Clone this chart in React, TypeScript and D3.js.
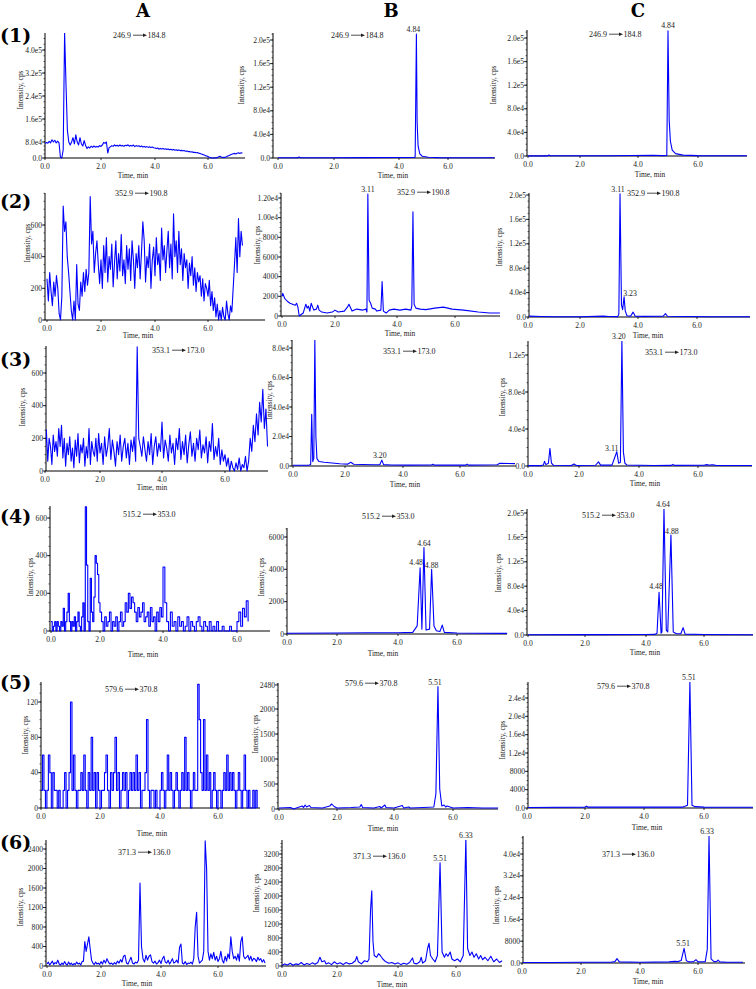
import React from 'react';
import * as d3 from 'd3';

// ---------------- DATA ----------------
const COLUMN_HEADERS = ['A', 'B', 'C'];
const ROW_HEADERS = ['(1)', '(2)', '(3)', '(4)', '(5)', '(6)'];
const X_TICKS = [0, 2, 4, 6];
const X_TICK_LABELS = ['0.0', '2.0', '4.0', '6.0'];
const X_TITLE = 'Time, min';
const Y_TITLE = 'Intensity, cps';
const TRANSITIONS: [string, string][] = [
  ['246.9', '184.8'], ['352.9', '190.8'], ['353.1', '173.0'],
  ['515.2', '353.0'], ['579.6', '370.8'], ['371.3', '136.0'],
];

// Column A (blank samples): intensities read every 0.05 min
const A_STEP_MIN = 0.05;
const A1_INTENSITY_E4 = [
  7.2,7.8,7.4,8.2,7.6,8.8,8.0,8.6,7.5,8.3, 7.6,0.5,0.0,4.0,46,28,12,8.0,6.5,8.0,
  9.5,7.0,10.5,8.0,6.5,9.5,7.0,6.0,8.5,6.2, 4.8,5.6,5.0,5.9,5.3,6.0,5.4,5.8,5.5,6.2,
  5.8,6.5,7.8,7.3,8.0,2.5,5.2,5.6,6.2,5.8, 6.6,6.0,6.4,5.9,6.5,6.0,6.3,5.8,6.4,6.1,
  6.6,5.9,6.3,6.0,6.5,5.7,6.2,5.9,6.1,5.6, 6.0,5.5,5.8,5.4,5.7,5.3,5.6,5.2,5.5,5.1,
  5.0,4.7,5.0,4.4,4.8,4.5,4.8,4.4,4.6,4.3, 4.5,4.1,4.4,4.0,4.3,3.9,4.1,3.8,4.0,3.7,
  3.8,3.6,3.7,3.4,3.5,3.2,3.3,3.0,3.1,2.8, 2.9,2.6,2.7,2.4,2.3,2.0,1.8,1.5,1.2,1.0,
  0.7,0.4,0.2,0.0,0.0,0.1,0.0,0.2,0.6,0.9, 0.5,0.2,0.4,0.3,0.7,1.0,1.3,1.6,1.9,2.1,
  2.3,2.0,2.4,2.6,2.3,2.6,2.5,
];
const A2_INTENSITY = [
  260,120,300,180,90,240,150,280,200,40, 0,150,720,560,620,400,300,180,60,0,
  120,0,350,100,60,240,150,300,180,320, 220,300,780,480,560,300,420,500,350,230,
  380,200,470,300,520,240,400,320,480,210, 360,500,260,420,310,540,280,380,230,470,
  320,450,250,500,380,200,420,330,470,260, 430,620,500,240,400,330,480,200,380,460,
  280,520,350,420,250,580,380,470,300,440, 560,330,480,260,670,400,500,300,560,350,
  450,250,420,330,380,200,360,280,400,220, 330,180,300,240,280,150,260,120,230,200,
  150,250,90,180,60,140,20,100,0,60, 0,80,20,0,120,40,0,90,50,200,
  350,520,300,640,400,560,470,
];
const A3_INTENSITY = [
  100,250,60,200,150,40,220,120,180,90, 260,150,280,80,200,30,170,100,210,60,
  140,20,190,90,230,50,160,110,200,30, 150,80,260,40,180,120,90,200,60,230,
  110,170,40,210,90,150,260,70,190,120, 30,180,100,220,60,150,200,80,170,40,
  190,120,210,60,760,200,150,90,210,130, 60,180,100,230,40,150,210,90,170,120,
  300,80,190,140,60,220,110,170,40,200, 130,260,70,180,100,220,50,160,240,90,
  170,60,200,130,250,80,160,110,210,50, 180,120,290,70,150,90,200,40,130,60,
  100,30,80,0,60,20,0,50,10,80, 0,40,20,90,0,60,200,120,280,180,
  350,220,420,300,500,260,380,150,
];
const A4_INTENSITY = [
  50,0,25,50,0,50,25,0,50,25, 120,0,50,100,200,50,0,50,25,75,
  0,50,100,25,0,75,150,0,660,350, 50,0,280,100,50,180,400,360,300,150,
  100,50,0,75,25,50,100,0,50,25, 75,0,50,100,25,50,150,100,200,120,
  180,150,100,50,125,75,100,150,50,75, 100,25,125,50,75,0,100,50,125,75,
  340,150,50,0,100,25,50,0,75,25, 50,0,25,75,0,50,25,0,50,75,
  25,0,50,25,0,50,0,25,0,50, 0,0,25,0,0,0,25,0,0,0,
  50,100,25,120,75,160,50,
];
const A5_INTENSITY = [
  20,60,20,0,20,60,40,0,40,20, 20,0,20,0,0,20,40,0,20,40,
  120,20,60,20,0,20,20,40,20,60, 20,0,40,20,80,20,40,0,40,20,
  0,20,20,40,60,20,0,40,20,40, 80,20,40,0,20,40,20,40,0,20,
  40,20,40,20,60,20,40,0,20,20, 40,100,20,0,20,20,0,20,0,0,
  20,40,20,0,20,60,20,40,20,0, 20,40,20,0,20,40,20,80,20,40,
  20,0,20,40,20,20,140,100,40,20, 100,20,60,20,40,0,20,40,20,0,
  20,20,0,20,40,20,60,20,40,20, 40,20,0,20,40,20,0,20,60,20,
  0,20,0,0,20,0,20,0,
];
const A6_INTENSITY = [
  40,80,20,60,100,30,70,50,120,40, 20,60,30,90,40,20,80,30,60,20,
  50,30,80,40,60,20,90,100,500,300, 450,600,350,120,60,30,80,40,60,30,
  90,40,120,60,150,80,40,60,30,70, 40,100,60,130,80,200,220,60,40,110,
  180,60,40,80,60,120,1700,400,150,80, 220,120,200,230,90,60,100,40,70,120,
  50,150,200,80,60,120,40,90,150,60, 80,120,60,380,450,60,40,90,30,60,
  50,80,40,150,800,1100,200,60,90,120, 300,2570,2000,300,120,250,150,280,120,200,
  90,150,300,120,60,200,100,250,150,600, 300,150,200,120,250,100,500,600,200,150,
  180,220,120,200,100,160,140,90,180,120, 150,80,130,60,
];

// Columns B and C: [time (min), intensity (cps)]
const B1_POINTS: [number, number][] = [
  [0,300],[0.7,300],[0.75,1500],[0.8,300],[2,500],[3,600],[4,800],[4.6,900],[4.66,1500],
  [4.71,210000],[4.74,60000],[4.78,20000],[4.85,7000],[4.95,3000],[5.2,1200],[5.6,600],[6.5,400],[7.9,300],
];
const C1_POINTS: [number, number][] = [
  [0,200],[0.75,200],[0.8,1800],[0.85,300],[3,500],[4.5,1200],[4.8,600],[4.96,800],
  [5.0,212000],[5.04,60000],[5.08,25000],[5.14,10000],[5.25,4000],[5.5,1500],[6,600],[7.63,300],
];
const B2_POINTS: [number, number][] = [
  [0,2000],[0.03,2300],[0.1,1800],[0.2,1500],[0.3,1300],[0.4,1200],[0.5,1100],[0.55,1300],[0.6,900],
  [0.65,0],[0.7,100],[0.8,300],[0.9,1200],[0.95,800],[1.0,1000],[1.05,500],[1.1,1300],[1.2,600],
  [1.3,700],[1.35,1100],[1.4,600],[1.5,400],[1.7,300],[1.9,400],[2.0,600],[2.1,400],[2.3,500],
  [2.4,900],[2.45,1200],[2.55,500],[2.7,700],[2.9,600],[3.0,700],[3.03,400],[3.06,12400],[3.1,1600],
  [3.15,1300],[3.2,800],[3.3,700],[3.35,500],[3.48,600],[3.52,3500],[3.56,500],[3.65,300],[3.75,600],
  [3.9,700],[4.1,600],[4.3,700],[4.48,600],[4.51,1000],[4.55,10600],[4.59,1200],[4.65,800],[4.8,700],
  [5.0,650],[5.3,800],[5.6,900],[5.9,700],[6.3,600],[6.8,400],[7.2,300],[7.55,300],
];
const C2_POINTS: [number, number][] = [
  [0,1500],[0.5,800],[1,500],[2,400],[2.8,1500],[3.0,800],[3.3,600],[3.34,5000],[3.38,202000],
  [3.43,20000],[3.47,12000],[3.52,33000],[3.56,10000],[3.62,2000],[3.75,1500],[3.83,8000],[3.9,1500],
  [4.2,1000],[4.85,1200],[4.93,5500],[5.0,1200],[5.6,800],[6.5,500],[7.8,400],
];
const B3_POINTS: [number, number][] = [
  [0,500],[0.6,500],[0.68,1000],[0.72,35000],[0.76,3000],[0.8,5000],[0.84,86000],[0.88,20000],
  [0.92,5000],[1.0,3000],[1.2,2500],[1.5,2000],[1.8,1500],[2.1,1300],[2.2,2500],[2.3,1200],[2.6,1000],
  [3.0,800],[3.2,900],[3.27,4000],[3.33,900],[3.6,700],[4.2,600],[5.0,700],[5.05,1200],[5.1,600],
  [6.2,600],[6.25,1300],[6.3,600],[7.3,800],[7.4,1800],[7.93,1600],
];
const C3_POINTS: [number, number][] = [
  [0,400],[0.5,400],[0.6,1000],[0.65,5000],[0.7,1500],[0.8,3000],[0.86,19000],[0.92,3000],[1.0,800],
  [1.7,600],[1.8,2200],[1.9,600],[2.55,800],[2.65,4500],[2.72,900],[3.1,1000],[3.2,10000],[3.26,15500],
  [3.32,3000],[3.38,4000],[3.43,136000],[3.48,15000],[3.53,3000],[3.6,1000],[4.5,600],[5.1,700],
  [5.15,1800],[5.2,700],[6.2,800],[6.3,1500],[6.4,900],[6.5,1400],[6.6,700],[7.83,500],
];
const B4_POINTS: [number, number][] = [
  [0,50],[2,60],[3,80],[4,80],[4.5,100],[4.65,500],[4.75,4100],[4.81,300],[4.88,5350],[4.95,250],
  [5.07,300],[5.14,4000],[5.22,500],[5.3,200],[5.42,150],[5.5,550],[5.57,100],[6,60],[7.7,40],
];
const C4_POINTS: [number, number][] = [
  [0,500],[2,600],[4,800],[4.3,1000],[4.38,3000],[4.45,70000],[4.52,3000],[4.55,5000],[4.62,207000],
  [4.7,8000],[4.75,5000],[4.86,164000],[4.94,5000],[5.05,2000],[5.2,2000],[5.28,12000],[5.35,1500],
  [6,800],[7.69,500],
];
const B5_POINTS: [number, number][] = [
  [0,20],[0.4,30],[0.5,0],[0.7,40],[0.8,60],[0.85,30],[0.9,80],[0.95,40],[1.05,70],[1.1,30],[1.5,20],
  [1.75,60],[1.82,100],[1.9,50],[2.0,20],[2.5,30],[2.8,40],[2.85,90],[2.9,30],[3.3,20],[3.5,50],
  [3.55,20],[3.68,80],[3.72,30],[4.0,20],[4.28,70],[4.33,20],[4.5,40],[4.55,20],[5.0,30],[5.35,40],
  [5.42,300],[5.49,2450],[5.55,400],[5.62,60],[5.7,80],[5.75,40],[5.8,60],[6.0,20],[6.5,30],[7.0,20],[7.53,20],
];
const C5_POINTS: [number, number][] = [
  [0,100],[2,200],[2.05,400],[2.1,200],[4,200],[5.3,200],[5.45,600],[5.53,27500],[5.6,600],
  [5.7,300],[6,200],[7.63,150],
];
const B6_POINTS: [number, number][] = [
  [0,20],[0.1,60],[0.2,30],[0.3,80],[0.4,20],[0.5,60],[0.6,40],[0.7,100],[0.8,30],[0.9,70],[1.0,40],
  [1.1,90],[1.2,50],[1.3,100],[1.38,250],[1.45,120],[1.55,150],[1.6,60],[1.7,90],[1.8,40],[1.9,120],
  [2.0,60],[2.1,90],[2.2,40],[2.3,100],[2.4,60],[2.5,80],[2.6,150],[2.65,270],[2.7,120],[2.8,60],
  [2.9,150],[3.0,120],[3.05,200],[3.1,1600],[3.14,2150],[3.18,700],[3.22,300],[3.3,250],[3.36,350],
  [3.42,300],[3.5,200],[3.6,120],[3.7,80],[3.8,100],[3.9,60],[4.0,90],[4.1,40],[4.2,80],[4.3,50],
  [4.4,100],[4.5,230],[4.55,80],[4.65,60],[4.75,120],[4.8,250],[4.85,80],[4.95,150],[5.02,500],
  [5.07,650],[5.12,300],[5.2,200],[5.28,120],[5.36,300],[5.45,2950],[5.52,400],[5.6,250],[5.66,350],
  [5.72,280],[5.8,400],[5.86,200],[5.95,150],[6.05,200],[6.15,120],[6.25,300],[6.34,3650],[6.4,500],
  [6.48,300],[6.55,400],[6.62,250],[6.7,350],[6.78,200],[6.85,300],[6.92,180],[7.0,250],[7.1,150],
  [7.2,280],[7.3,120],[7.4,200],[7.5,100],[7.59,150],
];
const C6_POINTS: [number, number][] = [
  [0,200],[1,200],[2,300],[3.0,300],[3.15,500],[3.22,1600],[3.3,400],[4,300],[5.0,400],[5.2,600],
  [5.3,500],[5.42,900],[5.52,5400],[5.6,800],[5.7,400],[5.85,500],[5.93,1200],[6.0,400],[6.25,500],
  [6.32,5000],[6.38,46600],[6.45,1500],[6.55,500],[6.65,600],[6.69,1100],[6.75,400],[7,300],[7.55,250],
];

// Peak labels: [text, time, intensity]
type Peak = [string, number, number];
const PEAKS_1B: Peak[] = [['4.84', 4.71, 210000]];
const PEAKS_1C: Peak[] = [['4.84', 5.0, 212000]];
const PEAKS_2B: Peak[] = [['3.11', 3.06, 12400]];
const PEAKS_2C: Peak[] = [['3.11', 3.38, 202000], ['3.23', 3.52, 33000]];
const PEAKS_3B: Peak[] = [['3.20', 3.27, 4000]];
const PEAKS_3C: Peak[] = [['3.20', 3.43, 136000], ['3.11', 3.26, 15500]];
const PEAKS_4B: Peak[] = [['4.48', 4.75, 4100], ['4.64', 4.88, 5350], ['4.88', 5.14, 4000]];
const PEAKS_4C: Peak[] = [['4.64', 4.62, 207000], ['4.88', 4.86, 164000], ['4.48', 4.45, 70000]];
const PEAKS_5B: Peak[] = [['5.51', 5.49, 2450]];
const PEAKS_5C: Peak[] = [['5.51', 5.53, 27500]];
const PEAKS_6B: Peak[] = [['5.51', 5.45, 2950], ['6.33', 6.34, 3650]];
const PEAKS_6C: Peak[] = [['6.33', 6.38, 46600], ['5.51', 5.52, 5400]];

// Y ticks
const YT_A1 = [0, 8, 16, 24, 32, 40];
const YL_A1 = ['0.0', '8.0e4', '1.6e5', '2.4e5', '3.2e5', '4.0e5'];
const YT_E5 = [0, 40000, 80000, 120000, 160000, 200000];
const YL_E5 = ['0.0', '4.0e4', '8.0e4', '1.2e5', '1.6e5', '2.0e5'];
const YT_600 = [0, 200, 400, 600];
const YL_600 = ['0', '200', '400', '600'];
const YT_B2 = [0, 2000, 4000, 6000, 8000, 10000, 12000];
const YL_B2 = ['0', '2000', '4000', '6000', '8000', '1.00e4', '1.20e4'];
const YT_B3 = [0, 20000, 40000, 60000, 80000];
const YL_B3 = ['0.0', '2.0e4', '4.0e4', '6.0e4', '8.0e4'];
const YT_C3 = [0, 40000, 80000, 120000];
const YL_C3 = ['0.0', '4.0e4', '8.0e4', '1.2e5'];
const YT_B4 = [0, 2000, 4000, 6000];
const YL_B4 = ['0', '2000', '4000', '6000'];
const YT_A5 = [0, 40, 80, 120];
const YL_A5 = ['0', '40', '80', '120'];
const YT_B5 = [0, 500, 1000, 1500, 2000, 2480];
const YL_B5 = ['0', '500', '1000', '1500', '2000', '2480'];
const YT_C5 = [0, 4000, 8000, 12000, 16000, 20000, 24000];
const YL_C5 = ['0.0', '4000', '8000', '1.2e4', '1.6e4', '2.0e4', '2.4e4'];
const YT_A6 = [0, 400, 800, 1200, 1600, 2000, 2400];
const YL_A6 = ['0', '400', '800', '1200', '1600', '2000', '2400'];
const YT_B6 = [0, 400, 800, 1200, 1600, 2000, 2400, 2800, 3200];
const YL_B6 = ['0', '400', '800', '1200', '1600', '2000', '2400', '2800', '3200'];
const YT_C6 = [0, 8000, 16000, 24000, 32000, 40000];
const YL_C6 = ['0.0', '8000', '1.6e4', '2.4e4', '3.2e4', '4.0e4'];

const sampled = (vals: number[]): [number, number][] => vals.map((v, i) => [i * A_STEP_MIN, v]);

// ---------------- LAYOUT ----------------
type PanelCfg = {
  id: string; row: number;
  series: [number, number][]; peaks: Peak[];
  yTicks: number[]; yLabels: string[];
  x0: number; xEnd: number; xTickPx: number[];
  yTop: number; yBase: number; yDom: number[]; yRng: number[];
  ylab: [number, number]; xlab: [number, number]; ann: [number, number];
  peakOff: [number, number][]; step?: boolean;
};

const PANELS: PanelCfg[] = [
  { id: '1A', row: 0, series: sampled(A1_INTENSITY_E4), peaks: [], yTicks: YT_A1, yLabels: YL_A1,
    x0: 45, xEnd: 245, xTickPx: [45, 101, 155, 208], yTop: 33, yBase: 158, yDom: [0, 8, 40], yRng: [158, 142, 50],
    ylab: [20, 90], xlab: [133, 175], ann: [113, 38], peakOff: [] },
  { id: '1B', row: 0, series: B1_POINTS, peaks: PEAKS_1B, yTicks: YT_E5, yLabels: YL_E5,
    x0: 273, xEnd: 495, xTickPx: [278, 334, 399, 448], yTop: 33, yBase: 158, yDom: [0, 200000], yRng: [158, 40],
    ylab: [241, 85], xlab: [393, 175], ann: [331, 38], peakOff: [[-3, 0]] },
  { id: '1C', row: 0, series: C1_POINTS, peaks: PEAKS_1C, yTicks: YT_E5, yLabels: YL_E5,
    x0: 527, xEnd: 747, xTickPx: [528, 580, 638, 698], yTop: 30, yBase: 156, yDom: [0, 200000], yRng: [156, 38],
    ylab: [493, 85], xlab: [650, 174], ann: [589, 37], peakOff: [[0, -1]] },

  { id: '2A', row: 1, series: sampled(A2_INTENSITY), peaks: [], yTicks: YT_600, yLabels: YL_600,
    x0: 45, xEnd: 265, xTickPx: [47, 101, 155, 208], yTop: 193, yBase: 320, yDom: [0, 600], yRng: [320, 225],
    ylab: [27, 243], xlab: [138, 335], ann: [115, 196], peakOff: [] },
  { id: '2B', row: 1, series: B2_POINTS, peaks: PEAKS_2B, yTicks: YT_B2, yLabels: YL_B2,
    x0: 281, xEnd: 500, xTickPx: [282, 335, 397, 455], yTop: 193, yBase: 316, yDom: [0, 12000], yRng: [316, 198],
    ylab: [257, 245], xlab: [400, 333], ann: [397, 195], peakOff: [[0, 0]] },
  { id: '2C', row: 1, series: C2_POINTS, peaks: PEAKS_2C, yTicks: YT_E5, yLabels: YL_E5,
    x0: 529, xEnd: 750, xTickPx: [528, 580, 638, 697], yTop: 193, yBase: 317, yDom: [0, 200000], yRng: [317, 195],
    ylab: [499, 247], xlab: [648, 335], ann: [627, 196], peakOff: [[-2, 0], [6, 1]] },

  { id: '3A', row: 2, series: sampled(A3_INTENSITY), peaks: [], yTicks: YT_600, yLabels: YL_600,
    x0: 46, xEnd: 268, xTickPx: [45, 100, 162, 225], yTop: 346, yBase: 471, yDom: [0, 600], yRng: [471, 373],
    ylab: [22, 407], xlab: [152, 487], ann: [152, 353], peakOff: [] },
  { id: '3B', row: 2, series: B3_POINTS, peaks: PEAKS_3B, yTicks: YT_B3, yLabels: YL_B3,
    x0: 292, xEnd: 516, xTickPx: [293, 345, 403, 460], yTop: 340, yBase: 466, yDom: [0, 80000], yRng: [466, 348],
    ylab: [269, 400], xlab: [405, 484], ann: [383, 354], peakOff: [[-2, 0]] },
  { id: '3C', row: 2, series: C3_POINTS, peaks: PEAKS_3C, yTicks: YT_C3, yLabels: YL_C3,
    x0: 528, xEnd: 752, xTickPx: [528, 579, 639, 698], yTop: 341, yBase: 466, yDom: [0, 120000], yRng: [466, 355],
    ylab: [502, 397], xlab: [645, 483], ann: [645, 355], peakOff: [[-3, 0], [-5, 1]] },

  { id: '4A', row: 3, series: sampled(A4_INTENSITY), peaks: [], yTicks: YT_600, yLabels: YL_600,
    x0: 50, xEnd: 270, xTickPx: [51, 100, 163, 237], yTop: 506, yBase: 631, yDom: [0, 600], yRng: [631, 518],
    ylab: [30, 577], xlab: [143, 654], ann: [123, 517], peakOff: [], step: true },
  { id: '4B', row: 3, series: B4_POINTS, peaks: PEAKS_4B, yTicks: YT_B4, yLabels: YL_B4,
    x0: 287, xEnd: 507, xTickPx: [287, 337, 398, 457], yTop: 528, yBase: 634, yDom: [0, 6000], yRng: [634, 537],
    ylab: [261, 577], xlab: [383, 653], ann: [362, 519], peakOff: [[-4, -1], [0, 0], [0, 1]] },
  { id: '4C', row: 3, series: C4_POINTS, peaks: PEAKS_4C, yTicks: YT_E5, yLabels: YL_E5,
    x0: 527, xEnd: 753, xTickPx: [528, 585, 646, 704], yTop: 509, yBase: 635, yDom: [0, 200000], yRng: [635, 513],
    ylab: [498, 573], xlab: [645, 652], ann: [582, 518], peakOff: [[-1, 0], [1, 1], [-3, -1]] },

  { id: '5A', row: 4, series: sampled(A5_INTENSITY), peaks: [], yTicks: YT_A5, yLabels: YL_A5,
    x0: 41, xEnd: 260, xTickPx: [41, 100, 160, 218], yTop: 682, yBase: 808, yDom: [0, 120], yRng: [808, 702],
    ylab: [25, 735], xlab: [152, 833], ann: [105, 692], peakOff: [], step: true },
  { id: '5B', row: 4, series: B5_POINTS, peaks: PEAKS_5B, yTicks: YT_B5, yLabels: YL_B5,
    x0: 278, xEnd: 498, xTickPx: [279, 337, 394, 453], yTop: 683, yBase: 809, yDom: [0, 2480], yRng: [809, 685],
    ylab: [255, 734], xlab: [383, 828], ann: [345, 686], peakOff: [[-3, 0]] },
  { id: '5C', row: 4, series: C5_POINTS, peaks: PEAKS_5C, yTicks: YT_C5, yLabels: YL_C5,
    x0: 528, xEnd: 753, xTickPx: [527, 585, 644, 704], yTop: 682, yBase: 808, yDom: [0, 24000], yRng: [808, 698],
    ylab: [502, 740], xlab: [647, 827], ann: [597, 689], peakOff: [[-1, 0]] },

  { id: '6A', row: 5, series: sampled(A6_INTENSITY), peaks: [], yTicks: YT_A6, yLabels: YL_A6,
    x0: 46, xEnd: 266, xTickPx: [47, 101, 161, 218], yTop: 840, yBase: 966, yDom: [0, 2400], yRng: [966, 849],
    ylab: [20, 907], xlab: [137, 983], ann: [118, 855], peakOff: [] },
  { id: '6B', row: 5, series: B6_POINTS, peaks: PEAKS_6B, yTicks: YT_B6, yLabels: YL_B6,
    x0: 282, xEnd: 502, xTickPx: [282, 337, 398, 456], yTop: 840, yBase: 966, yDom: [0, 3200], yRng: [966, 854],
    ylab: [256, 893], xlab: [392, 984], ann: [353, 859], peakOff: [[0, 0], [0, 0]] },
  { id: '6C', row: 5, series: C6_POINTS, peaks: PEAKS_6C, yTicks: YT_C6, yLabels: YL_C6,
    x0: 523, xEnd: 745, xTickPx: [522, 581, 640, 698], yTop: 836, yBase: 963, yDom: [0, 40000], yRng: [963, 854],
    ylab: [496, 905], xlab: [648, 981], ann: [602, 857], peakOff: [[-2, 0], [-1, 0]] },
];

const COL_HEADER_X = [143, 391, 638];
const ROW_HEADER_Y = [42, 208, 366, 523, 689, 849];

const SERIF = "'Liberation Serif', 'Times New Roman', serif";
const TXT = '#222';

function Panel({ p }: { p: PanelCfg }) {
  const x = d3.scaleLinear().domain(X_TICKS).range(p.xTickPx);
  const y = d3.scaleLinear().domain(p.yDom).range(p.yRng);
  const line = d3.line<[number, number]>().x(d => x(d[0])).y(d => y(d[1]))
    .curve(p.step ? d3.curveStepAfter : d3.curveLinear);
  const clipId = 'clip-' + p.id;
  const step = p.yTicks[1] - p.yTicks[0];
  const yMaxVal = y.invert(p.yTop);
  const minor = d3.range(0, yMaxVal, step / 4).filter(v => y(v) >= p.yTop);
  const [from, to] = TRANSITIONS[p.row];
  const [ax, ay] = p.ann;
  return (
    <g>
      <defs>
        <clipPath id={clipId}>
          <rect x={p.x0} y={p.yTop} width={p.xEnd - p.x0 + 2} height={p.yBase - p.yTop + 3} />
        </clipPath>
      </defs>
      <line x1={p.x0} x2={p.x0} y1={p.yTop} y2={p.yBase} stroke="#000" strokeWidth={1} />
      <line x1={p.x0} x2={p.xEnd} y1={p.yBase} y2={p.yBase} stroke="#000" strokeWidth={1} />
      {minor.map((v, i) => (
        <line key={'m' + i} x1={p.x0 - 1.5} x2={p.x0} y1={y(v)} y2={y(v)} stroke="#000" strokeWidth={0.6} />
      ))}
      {p.yTicks.map((v, i) => (
        <g key={'yt' + i}>
          <line x1={p.x0 - 3} x2={p.x0} y1={y(v)} y2={y(v)} stroke="#000" strokeWidth={0.8} />
          <text x={p.x0 - 3} y={y(v) + 2.6} textAnchor="end" fontSize={7.6} fontFamily={SERIF} fill={TXT}>
            {p.yLabels[i]}
          </text>
        </g>
      ))}
      {X_TICKS.map((t, i) => (
        <g key={'xt' + i}>
          <line x1={x(t)} x2={x(t)} y1={p.yBase} y2={p.yBase + 2} stroke="#000" strokeWidth={0.8} />
          <text x={x(t)} y={p.yBase + 10.5} textAnchor="middle" fontSize={7.6} fontFamily={SERIF} fill={TXT}>
            {X_TICK_LABELS[i]}
          </text>
        </g>
      ))}
      <text transform={`translate(${p.ylab[0]},${p.ylab[1]}) rotate(-90)`} textAnchor="middle" dy={2.5}
        fontSize={7.4} fontFamily={SERIF} fill={TXT}>{Y_TITLE}</text>
      <text x={p.xlab[0]} y={p.xlab[1] + 2.5} textAnchor="middle" fontSize={7.4} fontFamily={SERIF} fill={TXT}>{X_TITLE}</text>
      <text x={ax} y={ay} fontSize={8} fontFamily={SERIF} fill={TXT}>{from}</text>
      <line x1={ax + 20} x2={ax + 31} y1={ay - 2.8} y2={ay - 2.8} stroke={TXT} strokeWidth={0.8} />
      <path d={`M${ax + 34},${ay - 2.8}L${ax + 30},${ay - 4.6}L${ax + 30},${ay - 1}Z`} fill={TXT} />
      <text x={ax + 34.5} y={ay} fontSize={8} fontFamily={SERIF} fill={TXT}>{to}</text>
      <path d={line(p.series) || ''} fill="none" stroke="#0000ff" strokeWidth={1.1} clipPath={`url(#${clipId})`}
        strokeLinejoin="round" />
      {p.peaks.map((pk, i) => {
        const off = p.peakOff[i] || [0, 0];
        const py = Math.max(y(pk[2]), p.yTop);
        return (
          <text key={'pk' + i} x={x(pk[1]) + off[0]} y={py - 2 + off[1]} textAnchor="middle" fontSize={7.8}
            fontFamily={SERIF} fill={TXT}>{pk[0]}</text>
        );
      })}
    </g>
  );
}

export default function App() {
  return (
    <svg width={756} height={989} viewBox="0 0 756 989"
      style={{ position: 'absolute', left: 0, top: 0, background: '#fff' }}>
      <rect x={0} y={0} width={756} height={989} fill="#fff" />
      {COLUMN_HEADERS.map((c, i) => (
        <text key={c} x={COL_HEADER_X[i]} y={17} textAnchor="middle" fontSize={18} fontWeight="bold"
          fontFamily="'DejaVu Serif', serif" fill="#000">{c}</text>
      ))}
      {ROW_HEADERS.map((r, i) => (
        <text key={r} x={0} y={ROW_HEADER_Y[i]} fontSize={19} fontWeight="bold"
          fontFamily="'DejaVu Serif', serif" fill="#000">{r}</text>
      ))}
      {PANELS.map(p => <Panel key={p.id} p={p} />)}
    </svg>
  );
}
